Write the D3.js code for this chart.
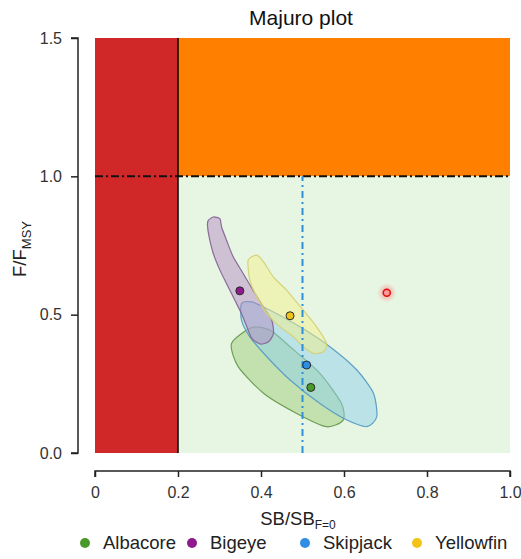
<!DOCTYPE html>
<html>
<head>
<meta charset="utf-8">
<script src="https://cdn.jsdelivr.net/npm/d3@7"></script>
<style>
  body { margin: 0; background: #fff; }
  text { font-family: "Liberation Sans", Arial, sans-serif; }
</style>
</head>
<body>
<svg id="chart" width="521" height="559"></svg>
<script>
const species = ["Albacore", "Bigeye", "Skipjack", "Yellowfin"];
const pointColors = ["#4a9a2a", "#8e1a8e", "#2f8de4", "#f2c318"];
const regionColors = ["#9fcc7a", "#b48cc4", "#8fd0ec", "#f4ee8c"];
const strokeColors = ["#6d9f55", "#8a6a9a", "#5d9fc4", "#d6d27a"];

// current estimates (SB/SB_F=0, F/F_MSY)
const sbRatio = [0.520, 0.349, 0.510, 0.470];
const fRatio = [0.237, 0.586, 0.318, 0.496];

// uncertainty regions
const albacoreRegion = [[0.329,0.396],[0.378,0.454],[0.422,0.444],[0.470,0.384],[0.542,0.288],[0.594,0.179],[0.598,0.119],[0.558,0.095],[0.486,0.143],[0.406,0.216],[0.345,0.312]];
const skipjackRegion = [[0.353,0.540],[0.378,0.546],[0.422,0.516],[0.494,0.456],[0.566,0.384],[0.631,0.300],[0.671,0.216],[0.679,0.131],[0.655,0.095],[0.607,0.119],[0.542,0.179],[0.470,0.264],[0.414,0.348],[0.373,0.420],[0.353,0.480]];
const yellowfinRegion = [[0.369,0.697],[0.390,0.715],[0.406,0.691],[0.430,0.636],[0.462,0.588],[0.502,0.516],[0.534,0.456],[0.558,0.396],[0.550,0.366],[0.526,0.360],[0.502,0.384],[0.478,0.420],[0.446,0.456],[0.414,0.504],[0.390,0.564],[0.373,0.625]];
const bigeyeRegion = [[0.273,0.841],[0.285,0.853],[0.301,0.847],[0.305,0.817],[0.317,0.769],[0.333,0.709],[0.357,0.649],[0.381,0.588],[0.406,0.528],[0.426,0.480],[0.430,0.432],[0.418,0.402],[0.398,0.394],[0.378,0.414],[0.366,0.456],[0.353,0.504],[0.337,0.552],[0.321,0.600],[0.301,0.661],[0.285,0.721],[0.275,0.781],[0.271,0.823]];
const regions = [albacoreRegion, skipjackRegion, bigeyeRegion, yellowfinRegion];
const regionSpecies = [0, 2, 1, 3];

// target point
const targetPoint = [0.703, 0.579];

const xTicks = [0, 0.2, 0.4, 0.6, 0.8, 1.0];
const xTickLabels = ["0", "0.2", "0.4", "0.6", "0.8", "1.0"];
const yTicks = [0, 0.5, 1.0, 1.5];

const svg = d3.select("#chart");
const x = d3.scaleLinear().domain([0, 1]).range([95, 510]);
const y = d3.scaleLinear().domain([0, 1.5]).range([453, 38]);

// zones
svg.append("rect").attr("x", x(0)).attr("y", y(1.5))
  .attr("width", x(0.2) - x(0)).attr("height", y(0) - y(1.5)).attr("fill", "#d02828");
svg.append("rect").attr("x", x(0.2)).attr("y", y(1.5))
  .attr("width", x(1) - x(0.2)).attr("height", y(1) - y(1.5)).attr("fill", "#ff7f00");
svg.append("rect").attr("x", x(0.2)).attr("y", y(1))
  .attr("width", x(1) - x(0.2)).attr("height", y(0) - y(1)).attr("fill", "#e6f6e2");

// uncertainty regions
const line = d3.line().x(d => x(d[0])).y(d => y(d[1])).curve(d3.curveCardinalClosed.tension(0.3));
regions.forEach((r, i) => {
  const s = regionSpecies[i];
  svg.append("path").attr("d", line(r))
    .attr("fill", regionColors[s]).attr("fill-opacity", 0.5)
    .attr("stroke", strokeColors[s]).attr("stroke-width", 1.2);
});

// reference lines
svg.append("line").attr("x1", x(0.2)).attr("x2", x(0.2)).attr("y1", y(0)).attr("y2", y(1.5))
  .attr("stroke", "#000").attr("stroke-width", 1.5);
svg.append("line").attr("x1", x(0)).attr("x2", x(1)).attr("y1", y(1)).attr("y2", y(1))
  .attr("stroke", "#111").attr("stroke-width", 2).attr("stroke-dasharray", "8,3,2,3");
svg.append("line").attr("x1", x(0.5)).attr("x2", x(0.5)).attr("y1", y(0)).attr("y2", y(1))
  .attr("stroke", "#2e8fd8").attr("stroke-width", 2).attr("stroke-dasharray", "7,4,2,4");

// target point with glow
const defs = svg.append("defs");
const grad = defs.append("radialGradient").attr("id", "glow");
grad.append("stop").attr("offset", "0%").attr("stop-color", "#ff6b6b").attr("stop-opacity", 0.8);
grad.append("stop").attr("offset", "100%").attr("stop-color", "#ff9a9a").attr("stop-opacity", 0);
svg.append("circle").attr("cx", x(targetPoint[0])).attr("cy", y(targetPoint[1])).attr("r", 10).attr("fill", "url(#glow)");
svg.append("circle").attr("cx", x(targetPoint[0])).attr("cy", y(targetPoint[1])).attr("r", 3.5)
  .attr("fill", "#ff9a9a").attr("stroke", "#e01010").attr("stroke-width", 1.5);

// estimates
svg.selectAll("circle.est").data(species).enter().append("circle")
  .attr("class", "est")
  .attr("cx", (d, i) => x(sbRatio[i])).attr("cy", (d, i) => y(fRatio[i]))
  .attr("r", 4).attr("fill", (d, i) => pointColors[i])
  .attr("stroke", "#2a2a2a").attr("stroke-width", 1);

// axes
const xAxis = svg.append("g").attr("transform", "translate(0,471)")
  .call(d3.axisBottom(x).tickValues(xTicks).tickFormat((d, i) => xTickLabels[i]).tickSize(6).tickPadding(10));
const yAxis = svg.append("g").attr("transform", "translate(78,0)")
  .call(d3.axisLeft(y).tickValues(yTicks).tickFormat(d3.format(".1f")).tickSize(7).tickPadding(9));
[xAxis, yAxis].forEach(a => {
  a.select(".domain").attr("stroke", "#222").attr("stroke-width", 1.5);
  a.selectAll(".tick line").attr("stroke", "#222").attr("stroke-width", 1.5);
  a.selectAll(".tick text").attr("fill", "#333").style("font-size", "16px")
    .style("font-family", '"Liberation Sans", Arial, sans-serif');
});
xAxis.select(".domain").attr("d", `M${x(0)},6V0H${x(1)}V6`);
yAxis.select(".domain").attr("d", `M-7,${y(0)}H0V${y(1.5)}H-7`);

// title and labels
svg.append("text").attr("x", 301).attr("y", 25).attr("text-anchor", "middle")
  .style("font-size", "21px").attr("fill", "#111").text("Majuro plot");

const xl = svg.append("text").attr("x", 298).attr("y", 525).attr("text-anchor", "middle")
  .style("font-size", "18.5px").attr("fill", "#222");
xl.append("tspan").text("SB/SB");
xl.append("tspan").attr("dy", 4).style("font-size", "12px").text("F=0");

const yl = svg.append("text").attr("transform", "translate(26,249) rotate(-90)").attr("text-anchor", "middle")
  .style("font-size", "18.5px").attr("fill", "#222");
yl.append("tspan").text("F/F");
yl.append("tspan").attr("dy", 5).style("font-size", "13px").text("MSY");

// legend
const legendX = [85, 192, 305, 417];
const legend = svg.selectAll("g.leg").data(species).enter().append("g")
  .attr("class", "leg").attr("transform", (d, i) => `translate(${legendX[i]},543)`);
legend.append("circle").attr("r", 5).attr("fill", (d, i) => pointColors[i]);
legend.append("text").attr("x", 18).attr("y", 6).style("font-size", "18.5px").attr("fill", "#222").text(d => d);
</script>
</body>
</html>
